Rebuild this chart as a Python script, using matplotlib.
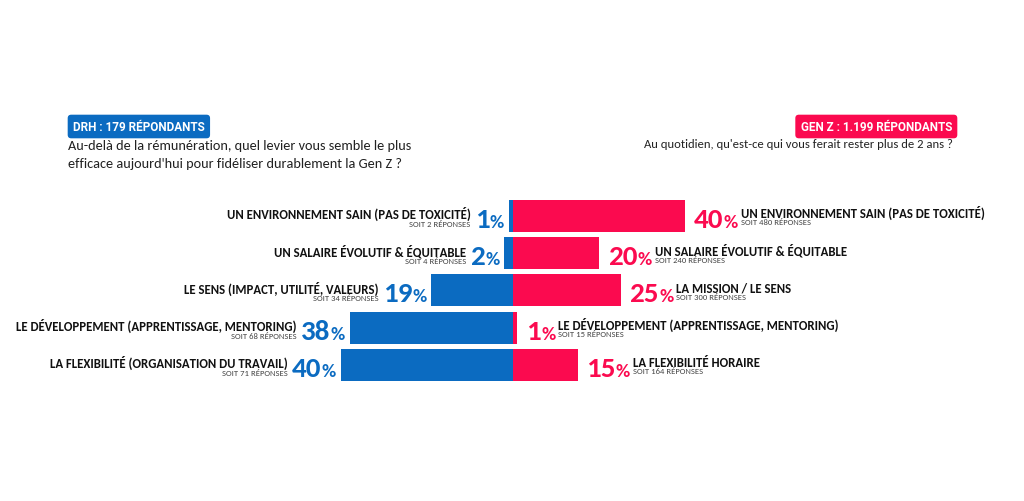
import matplotlib
matplotlib.use("Agg")
import matplotlib.pyplot as plt

# DRH answers (left, blue)
drh_labels = ["UN ENVIRONNEMENT SAIN (PAS DE TOXICITÉ)",
              "UN SALAIRE ÉVOLUTIF & ÉQUITABLE",
              "LE SENS (IMPACT, UTILITÉ, VALEURS)",
              "LE DÉVELOPPEMENT (APPRENTISSAGE, MENTORING)",
              "LA FLEXIBILITÉ (ORGANISATION DU TRAVAIL)"]
drh_pct = [1, 2, 19, 38, 40]
drh_n = [2, 4, 34, 68, 71]

# Gen Z answers (right, red)
genz_labels = ["UN ENVIRONNEMENT SAIN (PAS DE TOXICITÉ)",
               "UN SALAIRE ÉVOLUTIF & ÉQUITABLE",
               "LA MISSION / LE SENS",
               "LE DÉVELOPPEMENT (APPRENTISSAGE, MENTORING)",
               "LA FLEXIBILITÉ HORAIRE"]
genz_pct = [40, 20, 25, 1, 15]
genz_n = [480, 240, 300, 15, 164]

BLUE = "#0b6bc1"
RED = "#fb0a4f"
FONT = ["Carlito", "Lato"]

W, H = 1024, 502
fig = plt.figure(figsize=(W / 100, H / 100), dpi=100)
ax = fig.add_axes([0, 0, 1, 1])
S = 4.3       # pixels per percent
pitch = 37.2  # pixels per row
ax.set_xlim(-513 / S, (W - 513) / S)
ax.set_ylim((H - 217) / pitch, -217 / pitch)
ax.axis("off")

rows = range(len(drh_pct))
ax.barh(rows, [-v for v in drh_pct], height=0.86, color=BLUE)
ax.barh(rows, genz_pct, height=0.86, color=RED)

fig.canvas.draw()
r = fig.canvas.get_renderer()


def put(txt, xy, dx, dy, ha, size, color, weight="bold"):
    t = ax.annotate(txt, xy, xytext=(dx, dy), textcoords="offset pixels",
                    ha=ha, va="baseline", fontsize=size, color=color,
                    fontweight=weight, family=FONT)
    return t.get_window_extent(r).width


for i in rows:
    # left side
    x = -drh_pct[i]
    w1 = put("%", (x, i), -5, -11, "right", 14, BLUE)
    w2 = put(str(drh_pct[i]), (x, i), -5 - w1, -11, "right", 21, BLUE)
    xl = -5 - w1 - w2 - 4
    put(drh_labels[i], (x, i), xl, -2, "right", 9.2, "#111111")
    put(f"SOIT {drh_n[i]} RÉPONSES", (x, i), xl, -10, "right", 6.2, "#444444", "normal")

    # right side
    x = genz_pct[i]
    w2 = put(str(genz_pct[i]), (x, i), 9, -11, "left", 21, RED)
    w1 = put("%", (x, i), 9 + w2, -11, "left", 14, RED)
    xr = 9 + w2 + w1 + 3
    put(genz_labels[i], (x, i), xr, -1, "left", 9.2, "#111111")
    put(f"SOIT {genz_n[i]} RÉPONSES", (x, i), xr, -8.5, "left", 6.2, "#444444", "normal")


def ftext(x, y, s, **kw):
    fig.text(x / W, 1 - y / H, s, **kw)


ftext(73, 131, "DRH : 179 RÉPONDANTS", color="white", fontsize=8.5,
      fontweight="bold", family="Roboto",
      bbox=dict(boxstyle="round,pad=0.45,rounding_size=0.3", fc=BLUE, ec="none"))
ftext(68, 150, "Au-delà de la rémunération, quel levier vous semble le plus",
      fontsize=10.3, family=FONT, color="#222222")
ftext(68, 168, "efficace aujourd'hui pour fidéliser durablement la Gen Z ?",
      fontsize=10.3, family=FONT, color="#222222")

ftext(952, 131, "GEN Z : 1.199 RÉPONDANTS", color="white", fontsize=8.5,
      fontweight="bold", family="Roboto", ha="right",
      bbox=dict(boxstyle="round,pad=0.45,rounding_size=0.3", fc=RED, ec="none"))
ftext(953, 148, "Au quotidien, qu'est-ce qui vous ferait rester plus de 2 ans ?",
      fontsize=9.05, family=FONT, color="#222222", ha="right")

fig.savefig("out.png", dpi=100)
